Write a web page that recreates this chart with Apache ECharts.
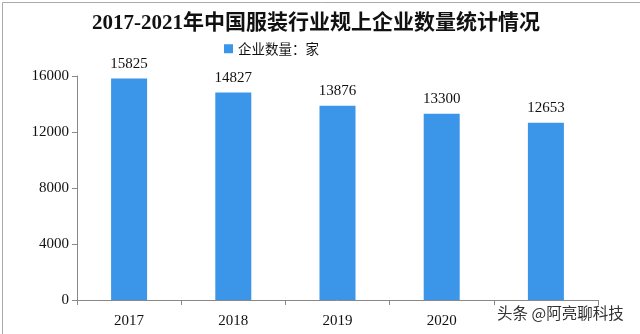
<!DOCTYPE html>
<html><head><meta charset="utf-8">
<script src="https://cdn.jsdelivr.net/npm/echarts@6/dist/echarts.min.js"></script>
<style>html,body{margin:0;padding:0;background:#fff}#c{width:640px;height:334px}</style>
</head><body><div id="c"></div>
<script>
const categories = ['2017','2018','2019','2020','2021'];
const values = [15825, 14827, 13876, 13300, 12653];
const yTicks = [0, 4000, 8000, 12000, 16000];
const titleText = '2017-2021年中国服装行业规上企业数量统计情况';
const seriesName = '企业数量：家';

const chart = echarts.init(document.getElementById('c'));
const serif = "'Liberation Serif','Noto Sans CJK SC',serif";
chart.setOption({
  backgroundColor: '#fff',
  animation: false,
  title: {
    text: titleText, left: 311, textAlign: 'center', top: 8,
    textStyle: {fontFamily: serif, fontSize: 21, fontWeight: 'bold', color: '#111'}
  },
  legend: {
    data: [seriesName], left: 219, top: 37, itemWidth: 9, itemHeight: 9, itemGap: 4,
    icon: 'rect',
    textStyle: {fontFamily: "'Noto Sans CJK SC',sans-serif", fontSize: 13.5, color: '#111'}
  },
  grid: {left: 77, right: 42, top: 76, bottom: 34, containLabel: false},
  xAxis: {
    type: 'category', data: categories,
    axisLine: {lineStyle: {color: '#888'}},
    axisTick: {show: true, alignWithLabel: false, length: 5, lineStyle: {color: '#888'}},
    axisLabel: {fontFamily: serif, fontSize: 15, color: '#111', margin: 14}
  },
  yAxis: {
    type: 'value', min: yTicks[0], max: yTicks[yTicks.length-1], interval: yTicks[1]-yTicks[0],
    axisLine: {show: true, lineStyle: {color: '#888'}},
    axisTick: {show: true, length: 5, lineStyle: {color: '#888'}},
    splitLine: {show: false},
    axisLabel: {fontFamily: serif, fontSize: 15, color: '#111', margin: 8, formatter: v => String(v)}
  },
  series: [{
    name: seriesName, type: 'bar', data: values, barWidth: 36,
    itemStyle: {color: '#3b95e9'},
    label: {show: true, position: 'top', distance: 7, fontFamily: serif, fontSize: 15, color: '#111'}
  }],
  graphic: [
    {type: 'rect', left: 0, top: 0, shape: {width: 639, height: 333}, style: {fill: 'none', stroke: '#aaa', lineWidth: 1}},
    {type: 'rect', left: 494, top: 306, shape: {width: 140, height: 26}, style: {fill: '#fff'}, z: 100},
    {type: 'text', left: 497, top: 305, z: 101, style: {text: '头条 @阿亮聊科技', fontFamily: "'Noto Sans CJK SC',sans-serif", fontSize: 15.5, fill: '#333'}}
  ]
});
</script></body></html>
